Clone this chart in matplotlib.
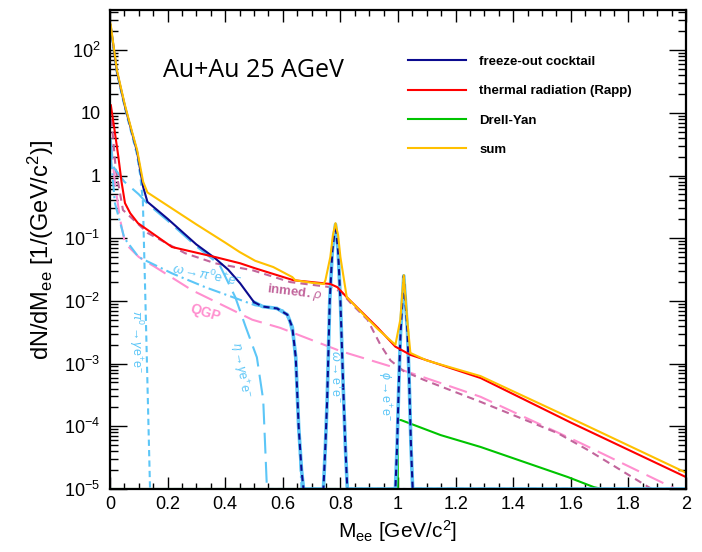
import numpy as np
import matplotlib
matplotlib.use("Agg")
from matplotlib import pyplot as plt
from matplotlib.ticker import FixedLocator, LogLocator, NullFormatter, MultipleLocator

plt.rcParams['font.family'] = ['Liberation Sans', 'DejaVu Sans']
plt.rcParams['mathtext.fontset'] = 'custom'
plt.rcParams['mathtext.rm'] = 'Liberation Sans'
plt.rcParams['mathtext.it'] = 'Liberation Sans:italic'
plt.rcParams['mathtext.bf'] = 'Liberation Sans:bold'

# invariant mass [GeV/c^2] and log10(dN/dM) for each contribution
m_sum = [0.002, 0.024, 0.052, 0.077, 0.094, 0.115, 0.13, 0.2, 0.3, 0.4, 0.45, 0.504, 0.567, 0.633,
         0.643, 0.7, 0.742, 0.748, 0.765, 0.774, 0.783, 0.792, 0.8, 0.822, 0.9, 0.93, 0.991, 1.008,
         1.02, 1.032, 1.043, 1.1, 1.287, 1.6, 2.0]
lg_sum = [2.42, 1.68, 1.12, 0.69, 0.41, -0.10, -0.27, -0.48, -0.78, -1.07, -1.22, -1.36, -1.46, -1.62,
          -1.67, -1.71, -1.73, -1.67, -1.30, -0.95, -0.76, -0.95, -1.30, -1.94, -2.31, -2.45, -2.70, -2.30,
          -1.59, -2.30, -2.83, -2.95, -3.20, -3.87, -4.74]

m_cocktail = [0.002, 0.024, 0.052, 0.077, 0.094, 0.115, 0.13, 0.2, 0.3, 0.365, 0.41, 0.452, 0.5, 0.53,
              0.58, 0.616, 0.633, 0.645, 0.655, 0.665, 0.672, 0.741, 0.748, 0.754, 0.763, 0.772, 0.783,
              0.792, 0.8, 0.81, 0.817, 0.824, 0.991, 0.997, 1.003, 1.009, 1.02, 1.033, 1.039, 1.045,
              1.051, 2.0]
lg_cocktail = [2.40, 1.66, 1.10, 0.67, 0.38, -0.18, -0.42, -0.69, -1.10, -1.32, -1.50, -1.72, -2.02, -2.09,
               -2.12, -2.22, -2.42, -2.90, -4.0, -4.7, -5.0, -5.0, -4.3, -3.58, -2.0, -1.2, -0.78,
               -1.2, -2.0, -3.4, -4.3, -5.0, -5.0, -4.3, -3.3, -2.5, -1.6, -2.5, -3.3, -4.3,
               -5.0, -5.0]

m_thermal = [0.003, 0.015, 0.029, 0.04, 0.052, 0.07, 0.097, 0.215, 0.365, 0.452, 0.504, 0.637, 0.765,
             0.789, 0.824, 0.93, 0.991, 1.043, 1.287, 1.6, 2.0]
lg_thermal = [1.12, 0.75, 0.30, -0.10, -0.44, -0.60, -0.76, -1.14, -1.30, -1.40, -1.48, -1.67, -1.73,
              -1.78, -1.95, -2.43, -2.73, -2.86, -3.23, -3.94, -4.81]

m_dy = [0.0, 0.999, 1.0, 1.01, 1.148, 1.287, 1.59, 1.68, 2.0]
lg_dy = [-5.0, -5.0, -3.90, -3.90, -4.14, -4.33, -4.81, -4.97, -5.3]

m_rho = [0.005, 0.02, 0.045, 0.132, 0.261, 0.365, 0.494, 0.626, 0.765, 0.8, 0.835, 0.894, 0.939,
         0.974, 1.02, 1.09, 1.287, 1.555, 1.66, 1.87, 2.0]
lg_rho = [0.9, 0.1, -0.55, -0.92, -1.24, -1.40, -1.51, -1.70, -1.78, -1.85, -2.03, -2.30, -2.70,
          -2.95, -3.12, -3.26, -3.61, -4.11, -4.38, -4.97, -5.3]

m_qgp = [0.003, 0.017, 0.035, 0.052, 0.1, 0.157, 0.285, 0.494, 0.591, 0.8, 1.0, 1.148, 1.287, 1.635,
         1.95, 2.0]
lg_qgp = [0.55, -0.12, -0.70, -1.08, -1.30, -1.46, -1.83, -2.30, -2.43, -2.80, -3.08, -3.31, -3.53,
          -4.27, -4.97, -5.05]

m_pi0 = [0.002, 0.024, 0.052, 0.077, 0.094, 0.105, 0.114, 0.123, 0.131, 0.139, 2.0]
lg_pi0 = [2.38, 1.63, 1.07, 0.63, 0.33, 0.0, -0.39, -2.0, -3.5, -5.0, -5.0]

m_eta = [0.002, 0.01, 0.05, 0.1, 0.13, 0.2, 0.3, 0.38, 0.435, 0.47, 0.51, 0.532, 0.545, 2.0]
lg_eta = [0.6, 0.15, -0.1, -0.3, -0.45, -0.72, -1.13, -1.42, -1.94, -2.4, -2.9, -3.58, -5.0, -5.0]

m_omd = [0.003, 0.017, 0.05, 0.099, 0.215, 0.33, 0.45, 0.504, 0.55, 0.6, 0.62, 0.635, 0.645, 0.655,
         0.665, 2.0]
lg_omd = [0.3, -0.44, -1.0, -1.30, -1.56, -1.78, -1.98, -2.07, -2.1, -2.15, -2.28, -2.55, -3.0, -4.0,
          -5.0, -5.0]

ytick_vals = [1e-5, 1e-4, 1e-3, 1e-2, 1e-1, 1, 10, 100]
ytick_text = [r'$10^{-5}$', r'$10^{-4}$', r'$10^{-3}$', r'$10^{-2}$', r'$10^{-1}$', '1', '10', r'$10^{2}$']
xtick_text = ['0', '0.2', '0.4', '0.6', '0.8', '1', '1.2', '1.4', '1.6', '1.8', '2']

navy = '#0b0b8f'
lblue = '#5cc6f7'
red = '#ff0000'
green = '#00c400'
gold = '#ffc000'
pink = '#ff8fcf'
mauve = '#c2659c'


def dndm(lg):
    return np.power(10.0, lg)


fig = plt.figure(figsize=(7.02, 5.52), dpi=100)
ax = fig.add_axes([110 / 702, 1 - 489 / 552, 576 / 702, 479 / 552])

lw = 1.5
h_dy, = ax.plot(m_dy, dndm(lg_dy), color=green, lw=lw)
ax.plot(m_qgp, dndm(lg_qgp), color=pink, lw=lw, dashes=(9, 4))
ax.plot(m_rho, dndm(lg_rho), color=mauve, lw=lw, dashes=(3.5, 2.5))
ax.plot(m_pi0, dndm(lg_pi0), color=lblue, lw=lw, dashes=(3, 2))
ax.plot(m_eta, dndm(lg_eta), color=lblue, lw=lw, dashes=(10, 4))
ax.plot(m_omd, dndm(lg_omd), color=lblue, lw=lw, dashes=(6, 2, 1, 2))

mc = np.array(m_cocktail)
yc = dndm(np.array(lg_cocktail))
low = mc <= 0.5
high = mc >= 0.5
ax.plot(mc[high], yc[high], color=lblue, lw=2.6)
h_ck, = ax.plot(mc[low], yc[low], color=navy, lw=lw)
ax.plot(mc[high], yc[high], color=navy, lw=lw, dashes=(3, 2))
h_th, = ax.plot(m_thermal, dndm(lg_thermal), color=red, lw=lw)
h_sum, = ax.plot(m_sum, dndm(lg_sum), color=gold, lw=lw)

ax.set_yscale('log')
ax.set_xlim(0, 2)
ax.set_ylim(1e-5, 10 ** 2.64)

ax.set_xticks(np.arange(0, 2.01, 0.2))
ax.set_xticklabels(xtick_text)
ax.xaxis.set_minor_locator(MultipleLocator(0.05))
ax.yaxis.set_major_locator(FixedLocator(ytick_vals))
ax.set_yticklabels(ytick_text)
ax.yaxis.set_minor_locator(LogLocator(base=10, subs=np.arange(2, 10)))
ax.yaxis.set_minor_formatter(NullFormatter())

ax.tick_params(axis='both', which='both', direction='in', top=True, right=True, width=1.0,
               labelsize=13, colors='black')
ax.tick_params(axis='x', which='major', length=8.5, pad=5)
ax.tick_params(axis='x', which='minor', length=4.5)
ax.tick_params(axis='y', which='major', length=12, pad=7)
ax.tick_params(axis='y', which='minor', length=6)
for s in ax.spines.values():
    s.set_linewidth(1.6)

ax.set_xlabel(r'M$_{\mathrm{ee}}$ [GeV/c$^{2}$]', fontsize=15, labelpad=4)
ax.set_ylabel(r'dN/dM$_{\mathrm{ee}}$ [1/(GeV/c$^{2}$)]', fontsize=17, labelpad=6)

ax.text(0.184, 48, 'Au+Au 25 AGeV', fontsize=18, family=['Open Sans', 'DejaVu Sans'],
        ha='left', va='center')

ax.legend([h_ck, h_th, h_dy, h_sum],
          ['freeze-out cocktail', 'thermal radiation (Rapp)', 'Drell-Yan', 'sum'],
          loc='upper left', bbox_to_anchor=(0.517, 0.905), frameon=False, borderpad=0,
          borderaxespad=0, handlelength=4.4, handletextpad=1.0, labelspacing=1.3,
          prop={'weight': 'bold', 'size': 9.5})

ax.text(0.337, 0.026, r'$\omega\rightarrow\pi^{0}\mathrm{e}^{+}\mathrm{e}^{-}$', color=lblue,
        fontsize=9.5, rotation=-11, ha='center', va='center')
ax.text(0.64, 0.0138, r'inmed. $\rho$', color=mauve, fontsize=9.5, fontweight='bold',
        rotation=-7, ha='center', va='center')
ax.text(0.33, 0.0065, 'QGP', color=pink, fontsize=10, fontweight='bold',
        rotation=-17, ha='center', va='center')
ax.text(0.09, 0.0022, r'$\pi^{0}\rightarrow\gamma \mathrm{e}^{+}\mathrm{e}^{-}$', color=lblue,
        fontsize=9, rotation=-90, ha='center', va='center')
ax.text(0.452, 8e-4, r'$\eta\rightarrow\gamma \mathrm{e}^{+}\mathrm{e}^{-}$', color=lblue,
        fontsize=9, rotation=-80, ha='center', va='center')
ax.text(0.783, 6.3e-4, r'$\omega\rightarrow \mathrm{e}^{+}\mathrm{e}^{-}$', color=lblue,
        fontsize=9, rotation=-90, ha='center', va='center')
ax.text(0.953, 3.0e-4, r'$\phi\rightarrow \mathrm{e}^{+}\mathrm{e}^{-}$', color=lblue,
        fontsize=9, rotation=-90, ha='center', va='center')

fig.savefig('out.png', dpi=100)
